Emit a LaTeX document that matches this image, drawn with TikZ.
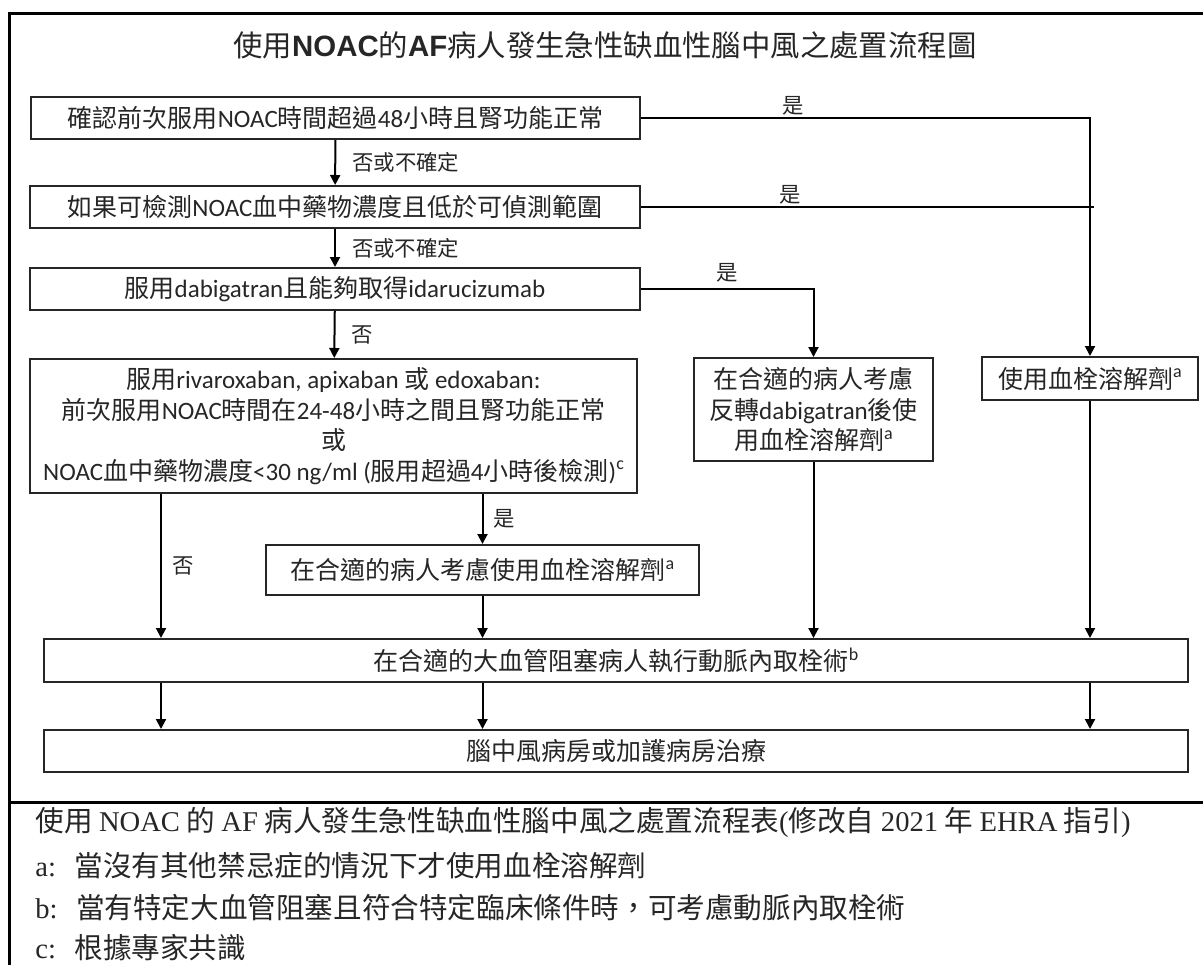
\documentclass[tikz,border=0pt]{standalone}
\usepackage{fontspec}
\setmainfont{Noto Sans CJK TC}
\newfontfamily\calibfont{Carlito}
\newfontfamily\arifont{Liberation Sans}
\newfontfamily\tnrfont{Liberation Serif}
\newcommand\calib[1]{{\calibfont #1}}
\newcommand\ari[1]{{\arifont\bfseries #1}}
\newcommand\tnr[1]{{\tnrfont #1}}
\newcommand\supa[1]{\raisebox{0.42em}{\fontsize{9pt}{9pt}\selectfont\calibfont #1}}
\usetikzlibrary{arrows.meta,positioning}
\definecolor{ink}{HTML}{262626}
\tikzset{
  box/.style={draw=black!85, line width=1pt, inner sep=0pt, align=center, text=ink,
    font=\fontsize{12.5pt}{15.3pt}\selectfont},
  arr/.style={line width=1pt, -{Triangle[length=5pt,width=5pt]}},
  conn/.style={line width=1pt},
  lbl/.style={inner sep=0pt, text=ink, font=\fontsize{10.7pt}{12pt}\selectfont},
  frame/.style={line width=1.5pt},
  captxt/.style={anchor=west, inner sep=0pt, text=ink, font=\fontsize{14.3pt}{17pt}\selectfont}
}
\begin{document}
\begin{tikzpicture}[x=0.5pt,y=-0.5pt]
\useasboundingbox (0,0) rectangle (1203,964);
\draw[frame] (1210,13) -| (9,975);
\draw[frame] (9,802) -- (1210,802);
\node[inner sep=0pt, text=ink, font=\fontsize{14.7pt}{18pt}\selectfont] (title) at (605,45)
  {使用\ari{NOAC}的\ari{AF}病人發生急性缺血性腦中風之處置流程圖};
\node[box, minimum width=304.5pt, minimum height=21pt] (b1) at (335.5,118)
  {確認前次服用\calib{NOAC}時間超過\calib{48}小時且腎功能正常};
\node[box, minimum width=305pt, minimum height=21pt] (b2) at (335,207)
  {如果可檢測\calib{NOAC}血中藥物濃度且低於可偵測範圍};
\node[box, minimum width=305pt, minimum height=21pt] (b3) at (335,289)
  {服用\calib{dabigatran}且能夠取得\calib{idarucizumab}};
\node[box, minimum width=303.5pt, minimum height=67pt] (b4) at (333.5,426)
  {服用\calib{rivaroxaban, apixaban }或\calib{ edoxaban:}\\
   前次服用\calib{NOAC}時間在\calib{24-48}小時之間且腎功能正常\\
   或\\
   \calib{NOAC}血中藥物濃度\calib{<30 ng/ml (}服用超過\calib{4}小時後檢測\calib{)}\supa{c}};
\node[box, minimum width=119.5pt, minimum height=51.5pt] (rev) at (813.5,409.5)
  {在合適的病人考慮\\反轉\calib{dabigatran}後使\\用血栓溶解劑\supa{a}};
\node[box, minimum width=108pt, minimum height=21.5pt] (tpa) at (1090,378.5)
  {使用血栓溶解劑\supa{a}};
\node[box, minimum width=216.5pt, minimum height=25pt] (tpa2) at (482.5,570)
  {在合適的病人考慮使用血栓溶解劑\supa{a}};
\node[box, minimum width=572pt, minimum height=21.5pt] (evt) at (616,660.5)
  {在合適的大血管阻塞病人執行動脈內取栓術\supa{b}};
\node[box, minimum width=572pt, minimum height=21pt] (ward) at (616,751)
  {腦中風病房或加護病房治療};
\coordinate (c1) at (161,0);

\draw[arr] (b1) -- node[lbl, right=8pt]{否或不確定} (b2);
\draw[arr] (b2) -- node[lbl, right=8pt]{否或不確定} (b3);
\draw[arr] (b3) -- node[lbl, right=8pt]{否} (b4);
\draw[arr] (b1.east) -| node[lbl, above=1pt, pos=0.17]{是} (tpa.north);
\draw[conn] (b2.east) -- node[lbl, above=1pt, pos=0.33]{是} ([xshift=2pt]b2.east -| tpa.north);
\draw[arr] (b3.east) -| node[lbl, above=3pt, pos=0.25]{是} (rev.north);
\draw[arr] (b4.south -| c1) -- node[lbl, right=5pt]{否} (evt.north -| c1);
\draw[arr] (b4.south -| tpa2) -- node[lbl, right=5pt]{是} (tpa2);
\draw[arr] (tpa2) -- (evt.north -| tpa2);
\draw[arr] (rev) -- (evt.north -| rev);
\draw[arr] (tpa) -- (evt.north -| tpa);
\draw[arr] (evt.south -| c1) -- (ward.north -| c1);
\draw[arr] (evt.south -| tpa2) -- (ward.north -| tpa2);
\draw[arr] (evt.south -| tpa) -- (ward.north -| tpa);

\node[captxt] (cap0) at (35,822)
  {使用 \tnr{NOAC} 的 \tnr{AF} 病人發生急性缺血性腦中風之處置流程表\tnr{(}修改自 \tnr{2021} 年 \tnr{EHRA} 指引\tnr{)}};
\node[captxt] (cap1) at (35,866) {\tnr{a:}\hspace{5pt} 當沒有其他禁忌症的情況下才使用血栓溶解劑};
\node[captxt] (cap2) at (35,908) {\tnr{b:}\hspace{5pt} 當有特定大血管阻塞且符合特定臨床條件時，可考慮動脈內取栓術};
\node[captxt] (cap3) at (35,948) {\tnr{c:}\hspace{5pt} 根據專家共識};
\end{tikzpicture}
\end{document}
